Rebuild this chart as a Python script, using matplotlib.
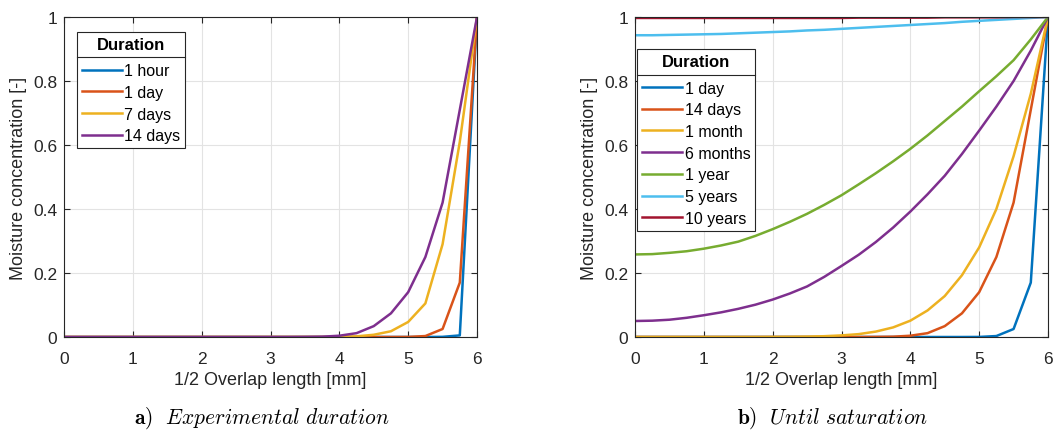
import matplotlib
matplotlib.use("Agg")
import matplotlib.pyplot as plt
from matplotlib.lines import Line2D
from matplotlib.ticker import FormatStrFormatter

plt.rcParams["font.family"] = ["Liberation Sans", "DejaVu Sans"]
plt.rcParams["mathtext.fontset"] = "cm"

# posisi sepanjang setengah overlap [mm], langkah 0.25
X = [0.0, 0.25, 0.5, 0.75, 1.0, 1.25, 1.5, 1.75, 2.0, 2.25, 2.5, 2.75, 3.0,
     3.25, 3.5, 3.75, 4.0, 4.25, 4.5, 4.75, 5.0, 5.25, 5.5, 5.75, 6.0]

# (a) durasi eksperimen
LABEL_A = ["1 hour", "1 day", "7 days", "14 days"]
A_1HOUR = [0, 0, 0, 0, 0, 0, 0, 0, 0, 0, 0, 0, 0,
           0, 0, 0, 0, 0, 0, 0, 0, 0, 0.0005, 0.005, 1.0]
A_1DAY = [0, 0, 0, 0, 0, 0, 0, 0, 0, 0, 0, 0, 0,
          0, 0, 0, 0, 0, 0, 0, 0.0002, 0.003, 0.025, 0.17, 1.0]
A_7DAYS = [0, 0, 0, 0, 0, 0, 0, 0, 0, 0, 0, 0, 0,
           0, 0, 0, 0.0005, 0.002, 0.007, 0.018, 0.047, 0.105, 0.29, 0.61, 1.0]
A_14DAYS = [0, 0, 0, 0, 0, 0, 0, 0, 0, 0, 0, 0, 0,
            0, 0.0003, 0.001, 0.004, 0.012, 0.034, 0.074, 0.14, 0.25, 0.42, 0.71, 1.0]

# (b) sampai jenuh
LABEL_B = ["1 day", "14 days", "1 month", "6 months", "1 year", "5 years", "10 years"]
B_1DAY = A_1DAY
B_14DAYS = A_14DAYS
B_1MONTH = [0, 0, 0, 0, 0, 0, 0, 0, 0.0003, 0.0006, 0.0012, 0.0025, 0.005,
            0.009, 0.017, 0.03, 0.051, 0.083, 0.128, 0.193, 0.28, 0.40, 0.565, 0.76, 1.0]
B_6MONTHS = [0.050, 0.051, 0.054, 0.060, 0.068, 0.077, 0.088, 0.101, 0.117, 0.136,
             0.158, 0.188, 0.222, 0.257, 0.297, 0.342, 0.392, 0.446, 0.504, 0.572,
             0.645, 0.72, 0.80, 0.895, 1.0]
B_1YEAR = [0.258, 0.259, 0.263, 0.268, 0.276, 0.286, 0.298, 0.316, 0.337, 0.36,
           0.385, 0.413, 0.443, 0.477, 0.512, 0.549, 0.588, 0.63, 0.675, 0.72,
           0.768, 0.815, 0.865, 0.93, 1.0]
B_5YEARS = [0.943, 0.943, 0.944, 0.945, 0.946, 0.947, 0.949, 0.951, 0.953, 0.955,
            0.958, 0.960, 0.963, 0.966, 0.969, 0.972, 0.975, 0.978, 0.981, 0.985,
            0.988, 0.991, 0.994, 0.997, 1.0]
B_10YEARS = [0.997, 0.997, 0.997, 0.997, 0.997, 0.997, 0.997, 0.997, 0.997, 0.997,
             0.997, 0.997, 0.997, 0.998, 0.998, 0.998, 0.998, 0.998, 0.999, 0.999,
             0.999, 0.999, 1.0, 1.0, 1.0]

WARNA = ["#0072BD", "#D95319", "#EDB120", "#7E2F8E", "#77AC30", "#4DBEEE", "#A2142F"]
GELAP = "#262626"


def gaya_sumbu(ax):
    ax.set_xlim(0, 6)
    ax.set_ylim(0, 1)
    ax.set_xticks(range(7))
    ax.set_yticks([0, 0.2, 0.4, 0.6, 0.8, 1.0])
    ax.yaxis.set_major_formatter(FormatStrFormatter("%g"))
    ax.grid(True, color="#e3e3e3", lw=0.8)
    ax.set_axisbelow(True)
    ax.tick_params(direction="in", length=4, width=0.8, colors=GELAP,
                   labelsize=12.5, top=True, right=True)
    ax.tick_params(axis="x", pad=10)
    ax.tick_params(axis="y", pad=5)
    for s in ax.spines.values():
        s.set_color(GELAP)
        s.set_linewidth(0.8)
    ax.set_xlabel("1/2 Overlap length [mm]", fontsize=13, color=GELAP, labelpad=4)
    ax.set_ylabel("Moisture concentration [-]", fontsize=13, color=GELAP, labelpad=4)


def pasang_legend(ax, anchor):
    leg = ax.legend(title="Duration", loc="upper left", bbox_to_anchor=anchor,
                    borderaxespad=0, fancybox=False, framealpha=1,
                    edgecolor=GELAP, fontsize=11.5, handlelength=2.5,
                    handletextpad=0.15, labelspacing=0.42, borderpad=0.3,
                    title_fontproperties={"weight": "bold", "size": 12})
    leg.get_frame().set_linewidth(0.8)
    # jarak ekstra antara judul dan isi legend
    leg._legend_box.sep = 8.5
    return leg


def main():
    fig = plt.figure(figsize=(10.55, 4.31), dpi=100)
    ax1 = fig.add_axes([64 / 1055, 93 / 431, 413 / 1055, 320 / 431])
    ax2 = fig.add_axes([635 / 1055, 93 / 431, 413 / 1055, 320 / 431])

    for ys, lab, c in zip([A_1HOUR, A_1DAY, A_7DAYS, A_14DAYS], LABEL_A, WARNA):
        ax1.plot(X, ys, color=c, lw=1.8, label=lab)
    seri_b = [B_1DAY, B_14DAYS, B_1MONTH, B_6MONTHS, B_1YEAR, B_5YEARS, B_10YEARS]
    for ys, lab, c in zip(seri_b, LABEL_B, WARNA):
        ax2.plot(X, ys, color=c, lw=1.8, label=lab)

    gaya_sumbu(ax1)
    gaya_sumbu(ax2)
    legs = [pasang_legend(ax1, (0.031, 0.954)), pasang_legend(ax2, (0.006, 0.900))]

    # garis pemisah judul legend (gaya MATLAB)
    fig.canvas.draw()
    r = fig.canvas.get_renderer()
    inv = fig.transFigure.inverted()
    for leg in legs:
        fb = leg.get_frame().get_window_extent(r)
        tb = leg.get_title().get_window_extent(r)
        t0 = leg.get_texts()[0].get_window_extent(r)
        y = (tb.y0 + t0.y1) / 2
        (x0, yy), (x1, _) = inv.transform([(fb.x0, y), (fb.x1, y)])
        fig.add_artist(Line2D([x0, x1], [yy, yy], color=GELAP, lw=0.8))

    fig.text(262 / 1055, 1 - 418 / 431,
             r"$\mathbf{a)}\ \ \mathit{Experimental\ duration}$",
             ha="center", va="center", fontsize=15.5)
    fig.text(832 / 1055, 1 - 418 / 431,
             r"$\mathbf{b)}\ \ \mathit{Until\ saturation}$",
             ha="center", va="center", fontsize=15.5)

    fig.savefig("out.png", dpi=100)


if __name__ == "__main__":
    main()
